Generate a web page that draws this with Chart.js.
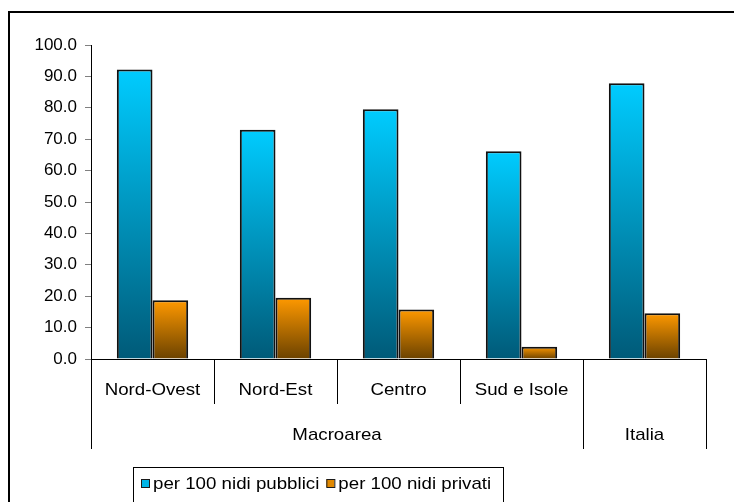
<!DOCTYPE html>
<html lang="it">
<head>
  <meta charset="UTF-8" />
  <title>Nidi per macroarea</title>
  <script src="https://cdn.jsdelivr.net/npm/chart.js"></script>
  <style>
    html, body { margin: 0; padding: 0; background: #fff; }
    #wrap { width: 734px; height: 502px; }
  </style>
</head>
<body>
  <div id="wrap"><canvas id="grafico" width="734" height="502"></canvas></div>

  <script>
    // dati
    const categorie = ['Nord-Ovest', 'Nord-Est', 'Centro', 'Sud e Isole', ''];
    const gruppi = ['Macroarea', 'Macroarea', 'Macroarea', 'Macroarea', 'Italia'];
    const nidiPubblici = [92.2, 73.0, 79.5, 66.2, 87.8];
    const nidiPrivati = [18.7, 19.5, 15.8, 3.9, 14.6];
    const etichetteSerie = ['per 100 nidi pubblici', 'per 100 nidi privati'];

    const FONT = '"Liberation Sans", Arial, sans-serif';
    const ALLARGA = 1.1; // il testo originale e' un po' piu' largo

    function gradiente(c, alto, basso) {
      const chart = c.chart;
      if (!chart.chartArea || c.type !== 'data') return alto;
      const y = chart.scales.y;
      const g = chart.ctx.createLinearGradient(0, y.getPixelForValue(c.raw), 0, y.getPixelForValue(0));
      g.addColorStop(0, alto);
      g.addColorStop(1, basso);
      return g;
    }

    // testo allargato in orizzontale
    function scrivi(ctx, testo, x, y, allinea) {
      const w = ctx.measureText(testo).width * ALLARGA;
      let sx = x;
      if (allinea === 'center') sx = x - w / 2;
      ctx.save();
      ctx.translate(sx, y);
      ctx.scale(ALLARGA, 1);
      ctx.textAlign = 'left';
      ctx.fillText(testo, 0, 0);
      ctx.restore();
      return w;
    }

    // asse x a due livelli, cornice e legenda
    const assiPlugin = {
      id: 'assi',
      afterDraw(chart) {
        const ctx = chart.ctx;
        const x = chart.scales.x;
        const y = chart.scales.y;
        const n = chart.data.labels.length;
        const w = (x.right - x.left) / n;
        const base = y.getPixelForValue(0);
        const fondo1 = base + 45;
        const fondo2 = base + 90;

        ctx.save();
        ctx.strokeStyle = '#000';
        ctx.lineWidth = 1;
        ctx.beginPath();
        ctx.moveTo(x.left, base + 0.5);
        ctx.lineTo(x.right, base + 0.5);
        for (let i = 0; i <= n; i++) {
          const px = Math.round(x.left + i * w) + 0.5;
          const lungo = i === 0 || i === n || gruppi[i] !== gruppi[i - 1];
          ctx.moveTo(px, base);
          ctx.lineTo(px, lungo ? fondo2 : fondo1);
        }
        ctx.stroke();

        ctx.fillStyle = '#000';
        ctx.font = '17px ' + FONT;
        ctx.textBaseline = 'middle';
        chart.data.labels.forEach((l, i) => {
          if (l) scrivi(ctx, l, x.getPixelForValue(i), base + 31, 'center');
        });
        let inizio = 0;
        for (let i = 1; i <= n; i++) {
          if (i === n || gruppi[i] !== gruppi[inizio]) {
            const cx = x.left + (inizio + i) / 2 * w;
            scrivi(ctx, gruppi[inizio], cx, base + 76, 'center');
            inizio = i;
          }
        }

        // cornice esterna
        ctx.lineWidth = 2;
        ctx.beginPath();
        ctx.moveTo(9, chart.height);
        ctx.lineTo(9, 12);
        ctx.lineTo(chart.width, 12);
        ctx.stroke();

        // legenda
        ctx.lineWidth = 1;
        ctx.strokeStyle = '#000';
        ctx.strokeRect(133.5, 467.5, 370, 40);
        ctx.font = '17px ' + FONT;
        let lx = 141;
        chart.data.datasets.forEach(ds => {
          ctx.fillStyle = ds.coloreLegenda;
          ctx.fillRect(lx, 479, 8, 8);
          ctx.strokeStyle = '#1a1a1a';
          ctx.strokeRect(lx + 0.5, 479.5, 8, 8);
          ctx.fillStyle = '#000';
          const tw = scrivi(ctx, ds.label, lx + 12, 484, 'left');
          lx += 12 + tw + 7;
        });
        ctx.restore();
      }
    };

    new Chart(document.getElementById('grafico'), {
      type: 'bar',
      data: {
        labels: categorie,
        datasets: [
          {
            label: etichetteSerie[0],
            data: nidiPubblici,
            backgroundColor: c => gradiente(c, '#00CCFF', '#005A78'),
            coloreLegenda: '#00B4E6',
            borderColor: '#111',
            borderWidth: 2
          },
          {
            label: etichetteSerie[1],
            data: nidiPrivati,
            backgroundColor: c => gradiente(c, '#FF9900', '#6B4200'),
            coloreLegenda: '#E08800',
            borderColor: '#111',
            borderWidth: 2
          }
        ]
      },
      options: {
        responsive: false,
        animation: false,
        layout: { padding: { top: 45, right: 28, bottom: 143, left: 0 } },
        datasets: { bar: { barPercentage: 1, categoryPercentage: 0.58 } },
        plugins: {
          legend: { display: false },
          tooltip: { enabled: false }
        },
        scales: {
          x: { display: false },
          y: {
            min: 0,
            max: 100,
            afterFit: s => { s.width = 91; },
            ticks: {
              stepSize: 10,
              padding: 8,
              color: '#000',
              font: { family: FONT, size: 17 },
              callback: v => v.toFixed(1)
            },
            grid: { drawOnChartArea: false, tickLength: 6, color: '#808080' },
            border: { color: '#000', width: 1 }
          }
        }
      },
      plugins: [assiPlugin]
    });
  </script>
</body>
</html>
